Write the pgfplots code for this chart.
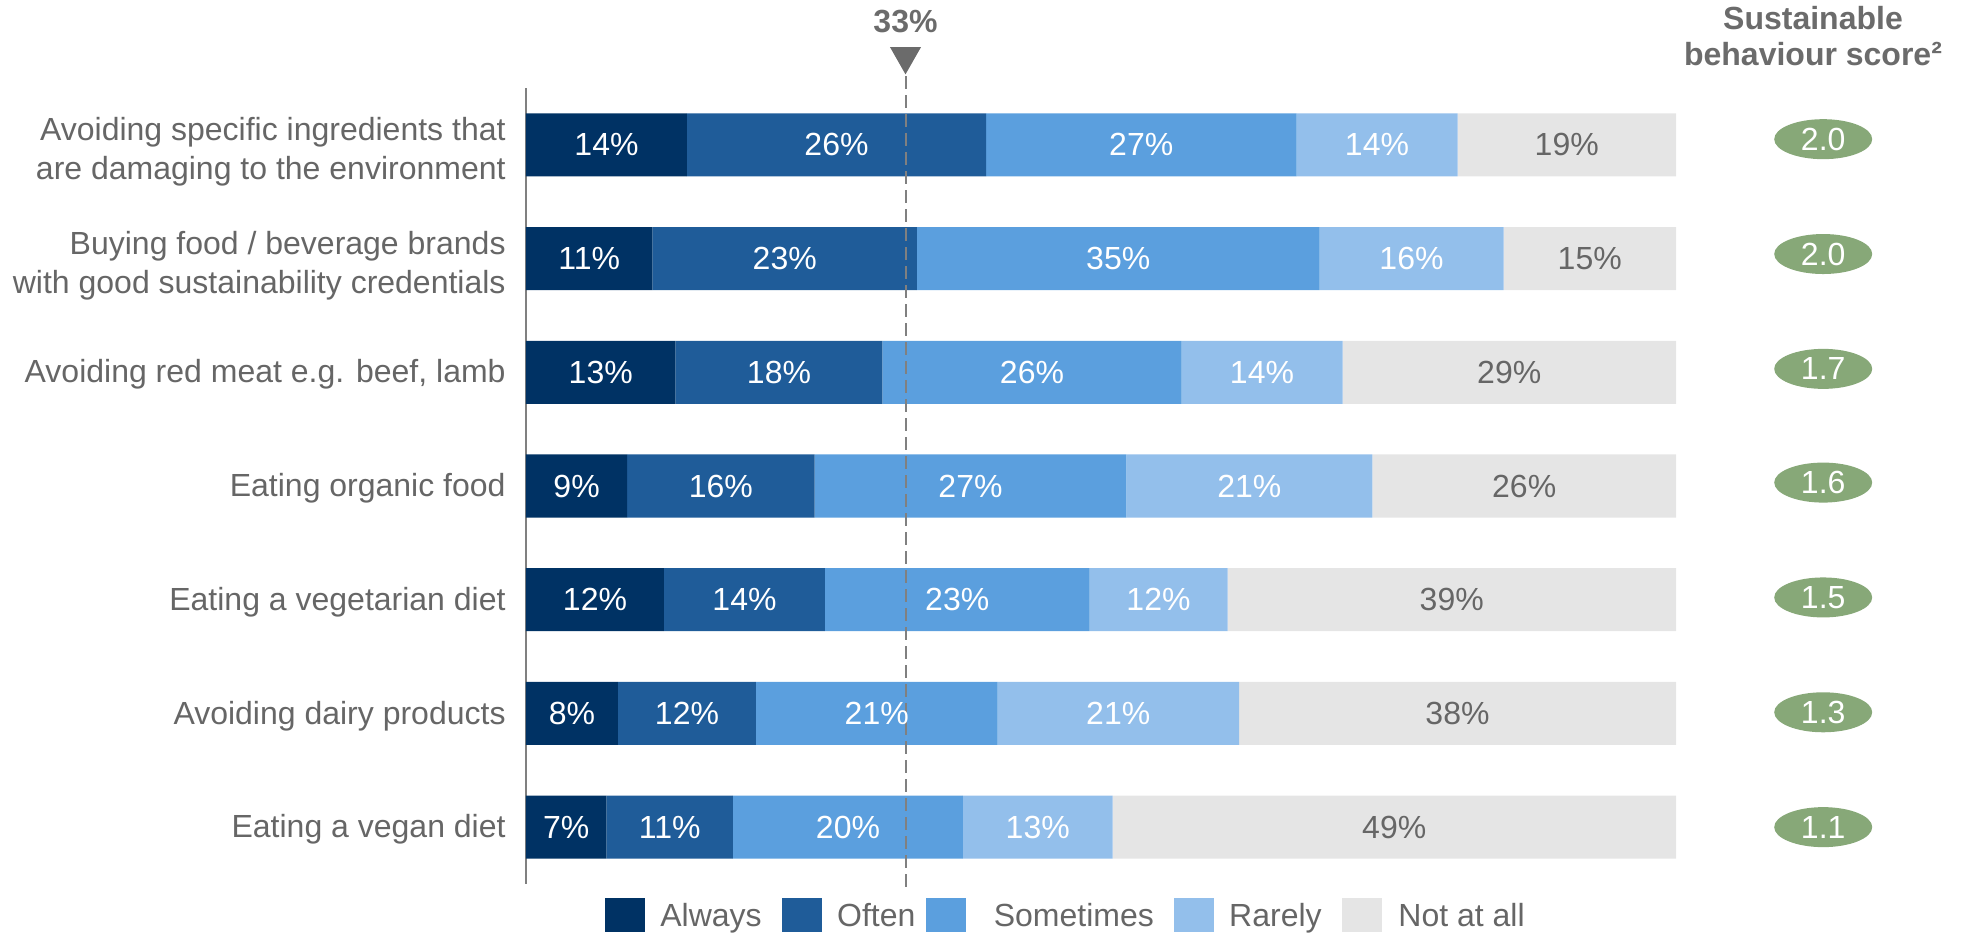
\documentclass[border=0pt]{standalone}
\usepackage{pgfplots}
\pgfplotsset{compat=1.18}
\usepackage{fontspec}
\setmainfont{Liberation Sans}
\usetikzlibrary{shapes.geometric}
\definecolor{cAlways}{HTML}{003264}
\definecolor{cOften}{HTML}{1F5C99}
\definecolor{cSome}{HTML}{5B9FDE}
\definecolor{cRare}{HTML}{93BFEB}
\definecolor{cNot}{HTML}{E5E5E5}
\definecolor{txt}{HTML}{666666}
\definecolor{dark}{HTML}{6B6B6B}
\definecolor{pill}{HTML}{87A878}
\definecolor{axisgray}{HTML}{808080}
\newcommand{\F}{\fontsize{16}{19.4}\selectfont}
\newcommand{\two}[2]{\raisebox{0pt}[\dimexpr\height+5pt\relax][\depth]{\begin{tabular}{@{}r@{}}#1\\#2\end{tabular}}}
\begin{document}
\F
\begin{tikzpicture}[x=1pt,y=1pt]
\useasboundingbox (-263,-25.5) rectangle (719,442);
\pgfplotsset{
  base/.style={
    at={(0,0)}, anchor=south west,
    width=575pt, height=398pt, scale only axis,
    xmin=0, xmax=100, ymin=0.5, ymax=7.5,
    clip=false, font=\F,
  }
}
\begin{axis}[base,
  xbar stacked, bar width=31.5pt,
  axis x line=none,
  axis y line*=left,
  axis line style={draw=axisgray, line width=1pt},
  ytick={1,2,3,4,5,6,7},
  major tick length=0pt,
  yticklabels={
    {Eating a vegan diet},
    {Avoiding dairy products},
    {Eating a vegetarian diet},
    {Eating organic food},
    {Avoiding red meat e.g. beef, lamb},
    {\two{Buying food / beverage brands}{with good sustainability credentials}},
    {\two{Avoiding specific ingredients that}{are damaging to the environment}}},
  yticklabel style={text=txt, font=\F, inner sep=0pt, xshift=-10pt, yshift=-1.2pt},
]
\addplot[fill=cAlways, draw=none] coordinates {(14,7) (11,6) (13,5) (8.8,4) (12,3) (8,2) (7,1)};
\addplot[fill=cOften, draw=none] coordinates {(26,7) (23,6) (18,5) (16.3,4) (14,3) (12,2) (11,1)};
\addplot[fill=cSome, draw=none] coordinates {(27,7) (35,6) (26,5) (27.1,4) (23,3) (21,2) (20,1)};
\addplot[fill=cRare, draw=none] coordinates {(14,7) (16,6) (14,5) (21.4,4) (12,3) (21,2) (13,1)};
\addplot[fill=cNot, draw=none] coordinates {(19,7) (15,6) (29,5) (26.4,4) (39,3) (38,2) (49,1)};
\end{axis}
\begin{axis}[base, hide axis]
% white labels, centred in each blue segment
\addplot[draw=none, nodes near coords={\pgfplotspointmeta\%}, point meta=explicit symbolic,
  nodes near coords style={text=white, anchor=center, font=\F}]
  coordinates {
  (7,7)[14] (27,7)[26] (53.5,7)[27] (74,7)[14]
  (5.5,6)[11] (22.5,6)[23] (51.5,6)[35] (77,6)[16]
  (6.5,5)[13] (22,5)[18] (44,5)[26] (64,5)[14]
  (4.4,4)[9] (16.95,4)[16] (38.65,4)[27] (62.9,4)[21]
  (6,3)[12] (19,3)[14] (37.5,3)[23] (55,3)[12]
  (4,2)[8] (14,2)[12] (30.5,2)[21] (51.5,2)[21]
  (3.5,1)[7] (12.5,1)[11] (28,1)[20] (44.5,1)[13]
  };
% grey labels in the "Not at all" segments
\addplot[draw=none, nodes near coords={\pgfplotspointmeta\%}, point meta=explicit symbolic,
  nodes near coords style={text=txt, anchor=center, font=\F}]
  coordinates {
  (90.5,7)[19] (92.5,6)[15] (85.5,5)[29] (86.8,4)[26] (80.5,3)[39] (81,2)[38] (75.5,1)[49]
  };
% sustainable behaviour score pills
\addplot[draw=none, nodes near coords={\pgfplotspointmeta}, point meta=explicit symbolic,
  nodes near coords style={ellipse, fill=pill, text=white, minimum width=49pt,
    minimum height=20pt, inner sep=0pt, anchor=center, font=\F}]
  coordinates {
  (112.8,7.05)[2.0] (112.8,6.04)[2.0] (112.8,5.03)[1.7] (112.8,4.03)[1.6]
  (112.8,3.02)[1.5] (112.8,2.01)[1.3] (112.8,1.0)[1.1]
  };
% 33% reference line
\draw[axisgray, line width=1pt, dash pattern=on 6.5pt off 3pt] (axis cs:33,0.474) -- (axis cs:33,7.75);
\fill[dark] (axis cs:31.65,7.86) -- (axis cs:34.35,7.86) -- (axis cs:33,7.62) -- cycle;
\node[anchor=base, text=dark, font=\F\bfseries, inner sep=0pt] at (axis cs:33,7.99) {33\%};
\end{axis}
% header of the score column
\node[anchor=base, text=dark, font=\F\bfseries, inner sep=0pt] at (643.5,427.3) {Sustainable};
\node[anchor=base, text=dark, font=\F\bfseries, inner sep=0pt] at (643.5,409) {behaviour score\raisebox{0.5pt}{²}};
% legend
\foreach \sx/\tx/\col/\lab in {39.5/67/cAlways/Always, 127.8/155.4/cOften/Often, 199.8/233.7/cSome/Sometimes, 323.8/351.4/cRare/Rarely, 407.8/436/cNot/Not at all}{
  \fill[\col] (\sx,-7) rectangle ++(20,-17);
  \node[anchor=base west, inner sep=0pt, text=txt, font=\F] at (\tx,-21.3) {\lab};
}
\end{tikzpicture}
\end{document}
